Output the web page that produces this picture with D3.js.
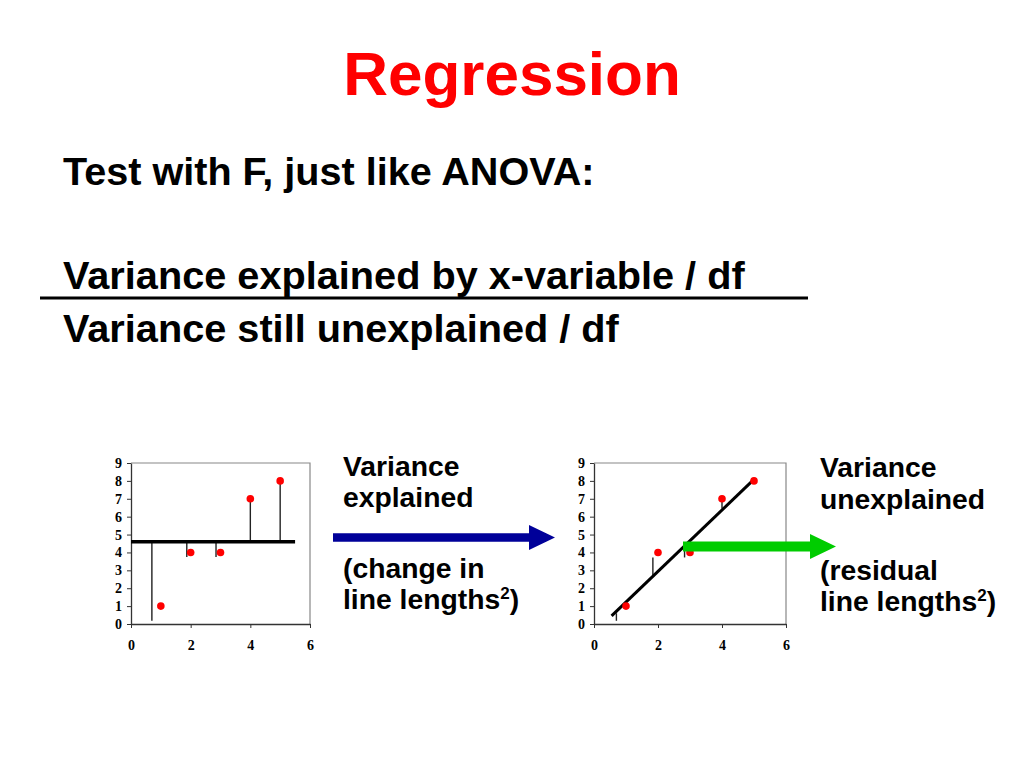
<!DOCTYPE html>
<html>
<head>
<meta charset="utf-8">
<script src="https://cdn.jsdelivr.net/npm/d3@7"></script>
<style>
  body { margin: 0; background: #fff; }
  svg { display: block; }
</style>
</head>
<body>
<div class="slide"></div>
<script>
// data
const xValues = [1, 2, 3, 4, 5];
const yValues = [1, 4, 4, 7, 8];
const xTicks = [0, 2, 4, 6];
const yTicks = [0, 1, 2, 3, 4, 5, 6, 7, 8, 9];

// left panel: horizontal mean line and deviations from it
const meanLevel = 4.6;
const meanLineX = [0, 5.5];
const devX = [0.7, 1.87, 2.85, 4, 5];
const devEnd = [0.18, 3.74, 3.74, 7, 8];

// right panel: fitted line and residuals
const fitX = [0.55, 4.95];
const fitY = [0.45, 8.0];
const residX = [0.7, 1.84, 2.83, 4.0];
const residFrom = [0.18, 3.72, 3.72, 6.93];
const residTo = [0.6, 2.74, 4.3, 6.46];

const width = 1024;
const height = 768;
const svg = d3.select('.slide').append('svg')
    .attr('width', width)
    .attr('height', height)

const sans = '"Liberation Sans", Arial, Helvetica, sans-serif';
const serif = '"Liberation Serif", "Times New Roman", "DejaVu Serif", serif';

svg.append('text')
    .attr('x', 512)
    .attr('y', 95)
    .attr('text-anchor', 'middle')
    .attr('font-family', sans)
    .attr('font-weight', 'bold')
    .attr('font-size', 62)
    .attr('fill', '#ff0000')
    .text('Regression')

const headLines = [
    {text: 'Test with F, just like ANOVA:', y: 185, size: 39.6},
    {text: 'Variance explained by x-variable / df', y: 289, size: 39.7},
    {text: 'Variance still unexplained / df', y: 342, size: 39.7}
];
svg.selectAll('text.head')
    .data(headLines)
    .enter()
    .append('text')
    .attr('class', 'head')
    .attr('x', 63)
    .attr('y', d => d.y)
    .attr('font-family', sans)
    .attr('font-weight', 'bold')
    .attr('font-size', d => d.size)
    .attr('fill', '#000')
    .text(d => d.text)

svg.append('line')
    .attr('x1', 40).attr('x2', 808)
    .attr('y1', 298).attr('y2', 298)
    .attr('stroke', '#000')
    .attr('stroke-width', 3)

function panel(x0, x1) {
    const x = d3.scaleLinear().domain([0, 6]).range([x0, x1]);
    const y = d3.scaleLinear().domain([0, 9]).range([624, 463]);
    const g = svg.append('g');

    // frame top/right
    g.append('path')
        .attr('d', `M${x0},${y(9)}H${x1}V${y(0)}`)
        .attr('fill', 'none')
        .attr('stroke', '#888')
        .attr('stroke-width', 1.2)

    const ax = g.append('g')
        .attr('transform', `translate(0,${y(0)})`)
        .call(d3.axisBottom(x).tickValues(xTicks).tickFormat(d3.format('d'))
            .tickSize(4).tickSizeOuter(0).tickPadding(12));
    const ay = g.append('g')
        .attr('transform', `translate(${x0},0)`)
        .call(d3.axisLeft(y).tickValues(yTicks).tickFormat(d3.format('d'))
            .tickSize(4).tickSizeOuter(0).tickPadding(5));
    [ax, ay].forEach(a => {
        a.attr('font-family', serif).attr('font-size', 14).attr('font-weight', 'bold');
        a.select('.domain').attr('stroke', '#333').attr('stroke-width', 1.3);
        a.selectAll('.tick line').attr('stroke', '#333');
        a.selectAll('.tick text').attr('fill', '#000');
    });
    return {g, x, y};
}

const left = panel(131, 310);
const right = panel(594, 786);

// left: deviation lines then mean line
left.g.selectAll('line.dev')
    .data(devX)
    .enter()
    .append('line')
    .attr('class', 'dev')
    .attr('x1', d => left.x(d)).attr('x2', d => left.x(d))
    .attr('y1', left.y(meanLevel))
    .attr('y2', (d, i) => left.y(devEnd[i]))
    .attr('stroke', '#222')
    .attr('stroke-width', 1.4)

left.g.append('line')
    .attr('x1', left.x(meanLineX[0])).attr('x2', left.x(meanLineX[1]))
    .attr('y1', left.y(meanLevel)).attr('y2', left.y(meanLevel))
    .attr('stroke', '#000')
    .attr('stroke-width', 3.5)

// right: residuals then fit line
right.g.selectAll('line.res')
    .data(residX)
    .enter()
    .append('line')
    .attr('class', 'res')
    .attr('x1', d => right.x(d)).attr('x2', d => right.x(d))
    .attr('y1', (d, i) => right.y(residFrom[i]))
    .attr('y2', (d, i) => right.y(residTo[i]))
    .attr('stroke', '#222')
    .attr('stroke-width', 1.4)

right.g.append('line')
    .attr('x1', right.x(fitX[0])).attr('x2', right.x(fitX[1]))
    .attr('y1', right.y(fitY[0])).attr('y2', right.y(fitY[1]))
    .attr('stroke', '#000')
    .attr('stroke-width', 3)

;[left, right].forEach(p => {
    p.g.selectAll('circle')
        .data(xValues)
        .enter()
        .append('circle')
        .attr('cx', d => p.x(d))
        .attr('cy', (d, i) => p.y(yValues[i]))
        .attr('r', 3.8)
        .attr('fill', '#ff0000')
});

// arrows
function arrow(xStart, xTip, yc, shaft, headStart, headHalf, color) {
    svg.append('path')
        .attr('d', `M${xStart},${yc - shaft / 2}H${headStart}V${yc - headHalf}L${xTip},${yc}L${headStart},${yc + headHalf}V${yc + shaft / 2}H${xStart}Z`)
        .attr('fill', color)
}
arrow(333, 555, 537.5, 8.5, 529, 12.5, '#000099');
arrow(683, 836, 546.5, 10, 810, 12.5, '#00cc00');

// side labels
function label(x, lines) {
    lines.forEach(l => {
        const t = svg.append('text')
            .attr('x', x)
            .attr('y', l.y)
            .attr('font-family', sans)
            .attr('font-weight', 'bold')
            .attr('font-size', 28.3)
            .attr('fill', '#000');
        if (l.sup) {
            t.append('tspan').text(l.text);
            t.append('tspan').attr('font-size', 17).attr('dy', -10).text('2');
            t.append('tspan').attr('dy', 10).text(')');
        } else {
            t.text(l.text);
        }
    });
}
label(343, [
    {text: 'Variance', y: 476},
    {text: 'explained', y: 507},
    {text: '(change in', y: 578},
    {text: 'line lengths', y: 609, sup: true}
]);
label(820, [
    {text: 'Variance', y: 477},
    {text: 'unexplained', y: 509},
    {text: '(residual', y: 580},
    {text: 'line lengths', y: 611, sup: true}
]);
</script>
</body>
</html>
